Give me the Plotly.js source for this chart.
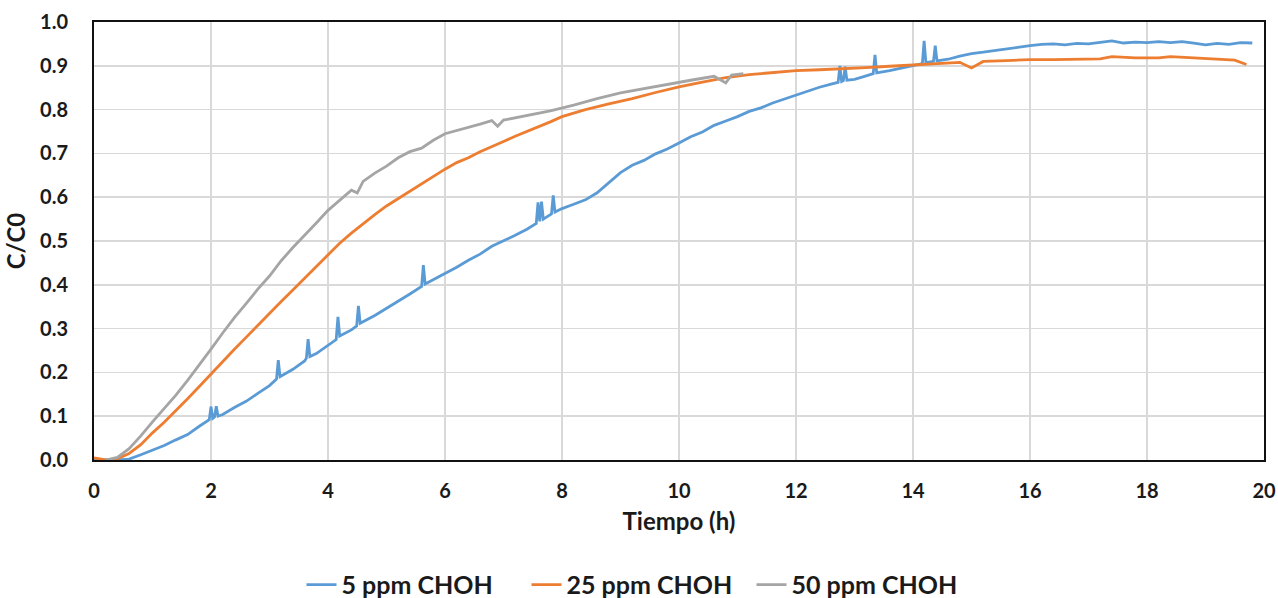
<!DOCTYPE html>
<html>
<head>
<meta charset="utf-8">
<script src="https://cdn.plot.ly/plotly-3.0.1.min.js"></script>
<style>html,body{margin:0;padding:0;background:#fff;}#chart{width:1278px;height:598px;}</style>
</head>
<body>
<div id="chart"></div>
<script>
// Series names
const seriesNames = ["5 ppm CHOH", "25 ppm CHOH", "50 ppm CHOH"];

// 5 ppm CHOH
const time5 = [0,0.2,0.4,0.6,0.8,1.0,1.2,1.4,1.6,1.8,
  1.97,2.0,2.03,2.06,2.09,2.12,2.2,2.4,2.6,2.8,
  3.0,3.12,3.15,3.18,3.4,3.6,3.63,3.66,3.69,3.8,
  4.0,4.14,4.17,4.2,4.4,4.49,4.52,4.55,4.8,5.0,
  5.2,5.4,5.6,5.63,5.66,5.8,6.0,6.2,6.4,6.6,
  6.8,7.0,7.2,7.4,7.56,7.59,7.62,7.65,7.68,7.82,
  7.85,7.88,8.0,8.2,8.4,8.6,8.8,9.0,9.2,9.4,
  9.6,9.8,10.0,10.2,10.4,10.6,10.8,11.0,11.2,11.4,
  11.6,11.8,12.0,12.2,12.4,12.6,12.72,12.75,12.78,12.81,
  12.84,12.87,13.0,13.2,13.32,13.35,13.38,13.6,13.8,14.0,
  14.16,14.19,14.22,14.35,14.38,14.41,14.6,14.8,15.0,15.2,
  15.4,15.6,15.8,16.0,16.2,16.4,16.6,16.8,17.0,17.2,
  17.4,17.6,17.8,18.0,18.2,18.4,18.6,18.8,19.0,19.2,
  19.4,19.6,19.8];
const c5 = [0.002,0,0,0.002,0.012,0.022,0.033,0.046,0.058,0.077,
  0.092,0.122,0.095,0.098,0.123,0.1,0.104,0.12,0.134,0.152,
  0.17,0.185,0.228,0.19,0.207,0.226,0.232,0.276,0.236,0.243,
  0.262,0.275,0.327,0.283,0.297,0.306,0.352,0.312,0.33,0.346,
  0.361,0.379,0.396,0.445,0.402,0.412,0.425,0.44,0.456,0.47,
  0.488,0.5,0.513,0.527,0.54,0.588,0.545,0.59,0.55,0.562,
  0.604,0.566,0.574,0.584,0.594,0.61,0.633,0.656,0.673,0.684,
  0.699,0.71,0.724,0.738,0.749,0.764,0.774,0.784,0.796,0.804,
  0.815,0.824,0.832,0.842,0.851,0.858,0.862,0.9,0.864,0.866,
  0.898,0.867,0.869,0.877,0.882,0.925,0.884,0.889,0.895,0.9,
  0.905,0.957,0.907,0.91,0.946,0.911,0.915,0.922,0.928,0.931,
  0.935,0.939,0.943,0.946,0.949,0.95,0.948,0.951,0.95,0.953,
  0.957,0.952,0.954,0.953,0.955,0.953,0.955,0.952,0.948,0.951,
  0.949,0.953,0.952];

// 25 ppm CHOH
const time25 = [0,0.2,0.4,0.6,0.8,1.0,1.2,1.4,1.6,1.8,
  2.0,2.2,2.4,2.6,2.8,3.0,3.2,3.4,3.6,3.8,
  4.0,4.2,4.4,4.6,4.8,5.0,5.2,5.4,5.6,5.8,
  6.0,6.2,6.4,6.6,6.8,7.0,7.2,7.4,7.6,7.8,
  8.0,8.4,8.8,9.2,9.6,10.0,10.4,10.8,11.2,11.6,
  12.0,12.4,12.8,13.2,13.6,14.0,14.4,14.8,15.0,15.2,
  15.6,16.0,16.4,16.8,17.2,17.4,17.8,18.2,18.4,18.8,
  19.2,19.5,19.7];
const c25 = [0.005,0,0.003,0.015,0.035,0.062,0.086,0.112,0.14,0.168,
  0.197,0.225,0.253,0.28,0.308,0.335,0.362,0.388,0.415,0.443,
  0.47,0.495,0.518,0.54,0.56,0.58,0.597,0.614,0.63,0.648,
  0.664,0.679,0.69,0.704,0.715,0.727,0.739,0.75,0.76,0.772,
  0.784,0.8,0.813,0.825,0.839,0.852,0.863,0.873,0.88,0.885,
  0.889,0.891,0.893,0.896,0.899,0.902,0.905,0.908,0.895,0.91,
  0.912,0.914,0.914,0.915,0.916,0.921,0.918,0.918,0.921,0.918,
  0.916,0.913,0.903];

// 50 ppm CHOH
const time50 = [0.2,0.4,0.6,0.8,1.0,1.2,1.4,1.6,1.8,2.0,
  2.2,2.4,2.6,2.8,3.0,3.2,3.4,3.6,3.8,4.0,
  4.2,4.4,4.5,4.6,4.8,5.0,5.2,5.4,5.6,5.8,
  6.0,6.2,6.4,6.6,6.8,6.9,7.0,7.4,7.8,8.2,
  8.6,9.0,9.4,9.8,10.2,10.6,10.8,10.9,11.1];
const c50 = [0,0.006,0.026,0.055,0.087,0.117,0.148,0.182,0.217,0.253,
  0.29,0.325,0.357,0.39,0.42,0.455,0.485,0.512,0.541,0.57,
  0.592,0.616,0.61,0.636,0.655,0.671,0.69,0.704,0.712,0.73,
  0.745,0.752,0.76,0.767,0.775,0.762,0.776,0.787,0.797,0.81,
  0.825,0.838,0.848,0.858,0.867,0.876,0.861,0.879,0.882];

// Axis ticks
const xTicks = [0,2,4,6,8,10,12,14,16,18,20];
const yTicks = [0,0.1,0.2,0.3,0.4,0.5,0.6,0.7,0.8,0.9,1.0];

const colors = ["#5B9BD5", "#ED7D31", "#A5A5A5"];
const fam = "Lato, 'Open Sans', sans-serif";
const txt = "#1a1a1a";

const traces = [
  {x: time5, y: c5, name: seriesNames[0], type: "scatter", mode: "lines", line: {color: colors[0], width: 2.8}},
  {x: time25, y: c25, name: seriesNames[1], type: "scatter", mode: "lines", line: {color: colors[1], width: 2.8}},
  {x: time50, y: c50, name: seriesNames[2], type: "scatter", mode: "lines", line: {color: colors[2], width: 2.8}}
];

const layout = {
  width: 1278, height: 598,
  margin: {l: 94, r: 14, t: 22, b: 138, autoexpand: false},
  paper_bgcolor: "#fff", plot_bgcolor: "#fff",
  font: {family: fam, size: 20, color: txt, weight: 700},
  showlegend: true,
  legend: {orientation: "h", x: 0.5, xref: "container", xanchor: "center",
    y: 0.022, yref: "container", yanchor: "middle",
    entrywidth: 180, entrywidthmode: "pixels",
    font: {family: fam, size: 25, color: txt, weight: 700}, tracegroupgap: 0},
  xaxis: {
    range: [0, 20], tickvals: xTicks, ticktext: xTicks.map(String),
    showgrid: true, gridcolor: "#d9d9d9", gridwidth: 1.5,
    showline: true, linecolor: "#111", linewidth: 2, mirror: true,
    ticks: "", zeroline: false, ticklabelstandoff: 12,
    tickfont: {family: fam, size: 20, color: txt, weight: 700},
    title: {text: "Tiempo (h)", font: {family: fam, size: 24, color: txt, weight: 700}, standoff: 12}
  },
  yaxis: {
    range: [0, 1.0], tickvals: yTicks, ticktext: yTicks.map(v => v.toFixed(1)),
    showgrid: true, gridcolor: "#d9d9d9", gridwidth: 1.5,
    showline: true, linecolor: "#111", linewidth: 2, mirror: true,
    ticks: "", zeroline: false, ticklabelstandoff: 20,
    tickfont: {family: fam, size: 20, color: txt, weight: 700},
    title: {text: "C/C0", font: {family: fam, size: 24, color: txt, weight: 700}, standoff: 8}
  }
};

Plotly.newPlot("chart", traces, layout, {displayModeBar: false, staticPlot: true});
</script>
</body>
</html>
